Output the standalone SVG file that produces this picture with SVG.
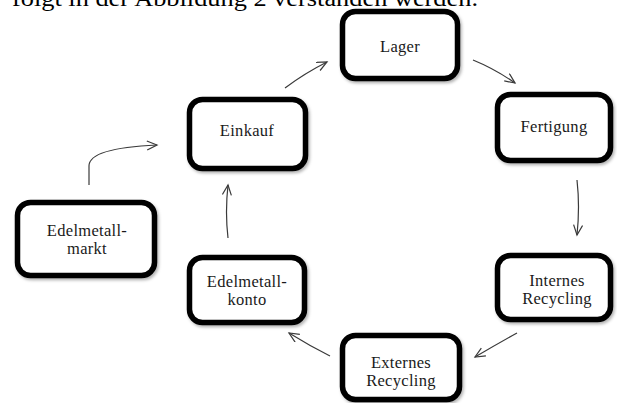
<svg xmlns="http://www.w3.org/2000/svg" width="617" height="403" viewBox="0 0 617 403">
  <defs>
    <style>
      .box { fill: #ffffff; stroke: #000000; stroke-width: 5.5; filter: url(#sh); }
      .lbl { font-family: "Liberation Serif", "Times New Roman", serif; font-size: 16.5px; fill: #1a1a1a; text-anchor: middle; letter-spacing: 0.3px; }
      .con { fill: none; stroke: #3a3a3a; stroke-width: 1.2; marker-end: url(#ah); }
      .top { font-family: "Liberation Serif", "Times New Roman", serif; font-size: 24px; fill: #000000; }
    </style>
    <filter id="sh" x="-10%" y="-10%" width="125%" height="130%">
      <feDropShadow dx="1.5" dy="2" stdDeviation="1.5" flood-color="#000000" flood-opacity="0.3"/>
    </filter>
    <marker id="ah" markerUnits="userSpaceOnUse" markerWidth="14" markerHeight="12" refX="11" refY="5" orient="auto">
      <path d="M1,0.5 L11,5 L1,9.5" fill="none" stroke="#3a3a3a" stroke-width="1.2"/>
    </marker>
  </defs>
  <rect width="617" height="403" fill="#ffffff"/>
  <text class="top" x="12" y="6" textLength="466" lengthAdjust="spacingAndGlyphs">folgt in der Abbildung 2 verstanden werden.</text>

  <g id="connectors">
    <path class="con" d="M285,88 Q305,73 327,62"/>
    <path class="con" d="M473,60 Q495,69 515,83"/>
    <path class="con" d="M577,180 Q580,207 577,235"/>
    <path class="con" d="M517,333 Q497,344 475,357"/>
    <path class="con" d="M330,356 Q310,346 289,333"/>
    <path class="con" d="M228,238 Q225,212 228,185"/>
    <path class="con" d="M89,185 L89,166 C89,154 112,147 157,145"/>
  </g>

  <g id="lager">
    <rect class="box" x="342.5" y="11.5" width="115" height="67" rx="13"/>
    <text class="lbl" x="400" y="52">Lager</text>
  </g>
  <g id="fertigung">
    <rect class="box" x="497.5" y="94.5" width="113" height="66" rx="13"/>
    <text class="lbl" x="554" y="132">Fertigung</text>
  </g>
  <g id="internes-recycling">
    <rect class="box" x="497.5" y="255.5" width="113" height="64" rx="13"/>
    <text class="lbl" x="557" y="285.5">Internes</text>
    <text class="lbl" x="557" y="303.5">Recycling</text>
  </g>
  <g id="externes-recycling">
    <rect class="box" x="342.5" y="335.5" width="117" height="64" rx="13"/>
    <text class="lbl" x="401" y="367.5">Externes</text>
    <text class="lbl" x="401" y="385.5">Recycling</text>
  </g>
  <g id="edelmetallkonto">
    <rect class="box" x="189.5" y="257.5" width="115" height="65" rx="13"/>
    <text class="lbl" x="247" y="286.5">Edelmetall-</text>
    <text class="lbl" x="247" y="304.5">konto</text>
  </g>
  <g id="edelmetallmarkt">
    <rect class="box" x="17.5" y="202.5" width="137" height="73" rx="13"/>
    <text class="lbl" x="87" y="235.5">Edelmetall-</text>
    <text class="lbl" x="87" y="254">markt</text>
  </g>
  <g id="einkauf">
    <rect class="box" x="189.5" y="99.5" width="116" height="69" rx="13"/>
    <text class="lbl" x="247" y="136">Einkauf</text>
  </g>
</svg>
